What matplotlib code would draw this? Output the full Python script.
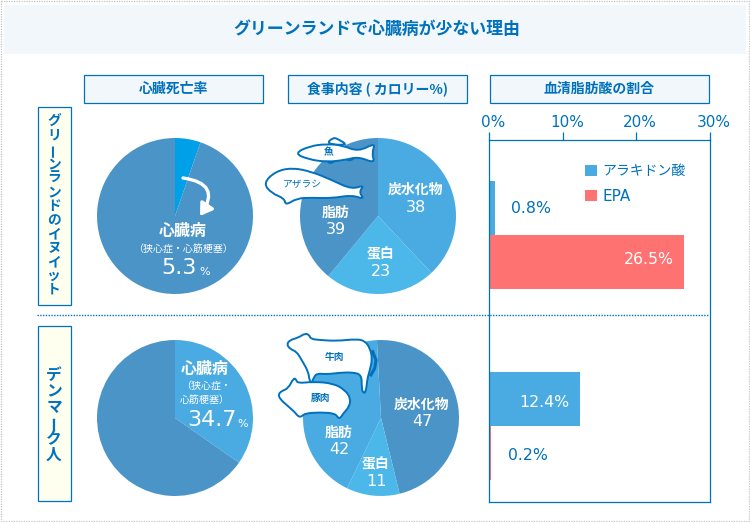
import matplotlib
matplotlib.use('Agg')
import matplotlib.pyplot as plt
from matplotlib.patches import Rectangle, PathPatch, FancyArrowPatch
from matplotlib.path import Path
from matplotlib.transforms import ScaledTranslation
import numpy as np

plt.rcParams['font.family'] = ['Noto Sans CJK JP', 'DejaVu Sans']

W, H = 750, 522
BLUE = '#0071bc'
DARK = '#4b94c8'
MID = '#4aabe3'
LIGHT = '#4cb8e9'
VIVID = '#00a0e9'
RED = '#ff7272'
BAND = '#f2f7fc'

title = 'グリーンランドで心臓病が少ない理由'
headers = ['心臓死亡率', '食事内容 ( カロリー%)', '血清脂肪酸の割合']
groups = ['グリーンランドのイヌイット', 'デンマーク人']

heart_values = [5.3, 94.7]
heart_values_dk = [34.7, 65.3]
food_labels = ['炭水化物', '蛋白', '脂肪']
food_values = [38, 23, 39]
food_values_dk = [47, 11, 42]

series_names = ['アラキドン酸', 'EPA']
arachidonic = [0.8, 12.4]
epa = [26.5, 0.2]
ticks = [0, 10, 20, 30]


def axes_px(fig, x0, y0, x1, y1, **kw):
    return fig.add_axes([x0 / W, 1 - y1 / H, (x1 - x0) / W, (y1 - y0) / H], **kw)


def draw_pie(fig, cx, cy, values, colors, start=90):
    r = 78
    ax = axes_px(fig, cx - r, cy - r, cx + r, cy + r)
    ax.pie(values, colors=colors, startangle=start, counterclock=False, radius=1)
    ax.set_xlim(-1, 1)
    ax.set_ylim(-1, 1)
    return ax


def blob(ax, pts, zorder=6):
    # closed smooth outline through midpoints
    pts = np.array(pts, dtype=float)
    mids = (pts + np.roll(pts, -1, axis=0)) / 2
    verts = [mids[-1]]
    codes = [Path.MOVETO]
    for p, m in zip(pts, mids):
        verts += [p, m]
        codes += [Path.CURVE3, Path.CURVE3]
    ax.add_patch(PathPatch(Path(verts, codes), fc='white', ec=BLUE, lw=1.4, zorder=zorder))


def shape(ax, pts, ox, oy, zorder=6):
    blob(ax, [(ox + x / 3, oy + y / 3) for x, y in pts], zorder)


fig = plt.figure(figsize=(7.5, 5.22), dpi=100)

# pies
draw_pie(fig, 175, 216, heart_values, [VIVID, DARK])
draw_pie(fig, 175, 418, heart_values_dk, [MID, DARK])
draw_pie(fig, 378, 216, food_values, [MID, LIGHT, DARK])
draw_pie(fig, 381, 418, food_values_dk, [DARK, LIGHT, MID], start=93)

# bars
bx = axes_px(fig, 489.5, 139.5, 709.5, 501.5)
rows = np.array([1.27, 4.81])
bx.barh(rows, arachidonic, height=1, color=MID, label=series_names[0])
bx.barh(rows + 1, epa, height=1, color=RED, label=series_names[1])
bx.set_xlim(0, 30)
bx.set_ylim(6.7, 0)
bx.set_yticks([])
bx.xaxis.tick_top()
bx.set_xticks(ticks)
bx.set_xticklabels([f'{t}%' for t in ticks], family='DejaVu Sans', fontsize=11, color=BLUE)
bx.tick_params(axis='x', length=6, width=0.9, color=BLUE, pad=1)
for lab in bx.get_xticklabels():
    lab.set_transform(lab.get_transform() + ScaledTranslation(0.04, 0, fig.dpi_scale_trans))
for s in bx.spines.values():
    s.set_color(BLUE)
    s.set_linewidth(0.9)
bx.patch.set_alpha(0)
leg = bx.legend(loc='upper left', bbox_to_anchor=(0.434, 0.932), frameon=False, fontsize=10,
                handlelength=0.85, handleheight=0.85, handletextpad=0.4, labelspacing=0.75,
                labelcolor=BLUE, borderpad=0, borderaxespad=0)
leg.get_texts()[1].set_family('DejaVu Sans')
leg.get_texts()[1].set_fontsize(11)

num_font = dict(family='DejaVu Sans', fontsize=11.3, va='center')
bx.text(2.93, rows[0], f'{arachidonic[0]}%', color=BLUE, ha='left', **num_font)
bx.text(25.2, rows[0] + 0.95, f'{epa[0]}%', color='white', ha='right', **num_font)
bx.text(10.9, rows[1] + 0.05, f'{arachidonic[1]}%', color='white', ha='right', **num_font)
bx.text(2.5, rows[1] + 1.04, f'{epa[1]}%', color=BLUE, ha='left', **num_font)

# page furniture and labels in pixel coordinates
ov = fig.add_axes([0, 0, 1, 1], zorder=5)
ov.set_xlim(0, W)
ov.set_ylim(H, 0)
ov.axis('off')
ov.patch.set_alpha(0)

ov.add_patch(Rectangle((1, 1), 748, 520, fc='none', ec='#c4c4c4', lw=0.9, ls=(0, (1, 1))))
ov.add_patch(Rectangle((4, 5), 742, 49, fc=BAND, ec='none'))
ov.text(377, 29, title, color=BLUE, fontsize=12.2, fontweight='bold', ha='center', va='center')

for (x0, x1), h in zip([(84, 263), (288, 466.5), (489.5, 708.5)], headers):
    ov.add_patch(Rectangle((x0, 74.5), x1 - x0, 28.5, fc=BAND, ec=BLUE, lw=0.9))
    ov.text((x0 + x1) / 2, 89, h, color=BLUE, fontsize=10, fontweight='bold', ha='center', va='center')

ov.plot([37, 709], [315, 315], color=BLUE, lw=1, ls=(0, (1, 1)))

# vertical group labels, one character at a time
boxes = [(106.5, 305, 122, 14, 9.9), (325.5, 501, 375, 16, 11.3)]
for (y0, y1, first, step, size), name in zip(boxes, groups):
    ov.add_patch(Rectangle((37.5, y0), 33, y1 - y0, fc='#fffff0', ec=BLUE, lw=0.9))
    for i, ch in enumerate(name):
        rot = 90 if ch == 'ー' else 0
        ov.text(54, first + i * step, ch, color=BLUE, fontsize=size, fontweight='bold', rotation=rot,
                ha='center', va='center')

# heart pie labels
ov.add_patch(FancyArrowPatch((183, 178), (200, 216), connectionstyle='arc3,rad=-0.8',
                             arrowstyle='-|>,head_length=7,head_width=4.5', color='white', lw=2.4,
                             shrinkA=0, shrinkB=0, zorder=4))
ov.text(183, 231, '心臓病', color='white', fontsize=11.5, fontweight='bold', ha='center', va='center')
ov.text(183, 249, '（狭心症・心筋梗塞）', color='white', fontsize=7.2, ha='center', va='center')
ov.text(179, 268, f'{heart_values[0]}', color='white', fontsize=16, family='DejaVu Sans', ha='center', va='center')
ov.text(205, 272, '%', color='white', fontsize=8, family='DejaVu Sans', ha='center', va='center')

ov.text(205, 369, '心臓病', color='white', fontsize=11.5, fontweight='bold', ha='center', va='center')
ov.text(206, 386, '（狭心症・', color='white', fontsize=7.2, ha='center', va='center')
ov.text(205, 400, '心筋梗塞）', color='white', fontsize=7.2, ha='center', va='center')
ov.text(212, 420, f'{heart_values_dk[0]}', color='white', fontsize=16, family='DejaVu Sans', ha='center', va='center')
ov.text(243, 424, '%', color='white', fontsize=8, family='DejaVu Sans', ha='center', va='center')

# food pie labels
food_pos = [(416, 191), (381, 255), (336, 214)]
food_pos_dk = [(422, 406), (376, 465), (339, 434)]
for pos, vals in [(food_pos, food_values), (food_pos_dk, food_values_dk)]:
    for (x, y), lab, v in zip(pos, food_labels, vals):
        ov.text(x, y - 1, lab, color='white', fontsize=10, fontweight='bold', ha='center', va='center')
        ov.text(x, y + 16, str(v), color='white', fontsize=11.5, family='DejaVu Sans', ha='center', va='center')

# animals
shape(ov, [(213, 42), (235, 22), (250, 28), (280, 46)], 255, 130, zorder=5)
shape(ov, [(215, 90), (225, 102), (240, 92), (270, 84), (285, 94), (305, 78)], 255, 130, zorder=5)
shape(ov, [(118, 70), (165, 48), (215, 42), (262, 46), (310, 65), (362, 38), (350, 70),
           (360, 100), (310, 80), (270, 90), (215, 96), (160, 88)], 255, 130)
shape(ov, [(25, 160), (60, 125), (110, 113), (170, 125), (230, 150), (290, 178), (328, 165),
           (312, 186), (328, 208), (290, 195), (230, 205), (170, 203), (125, 205), (92, 226),
           (88, 205), (50, 190)], 255, 130)
ov.plot([270 + 308 / 3, 270 + 318 / 3, 270 + 314 / 3, 270 + 303 / 3],
        [325 + 80 / 3, 325 + 105 / 3, 325 + 130 / 3, 325 + 150 / 3], color=BLUE, lw=2.2, zorder=5)
shape(ov, [(50, 58), (60, 45), (85, 38), (105, 25), (118, 30), (122, 42), (150, 45), (200, 48),
           (260, 42), (285, 48), (300, 70), (307, 100), (300, 135), (292, 160), (288, 200),
           (280, 205), (275, 190), (275, 150), (250, 142), (210, 143), (170, 148), (140, 145),
           (130, 160), (125, 175), (118, 165), (115, 140), (95, 105), (80, 80), (60, 72)], 270, 325)
shape(ov, [(25, 208), (35, 198), (55, 190), (70, 160), (78, 162), (82, 175), (130, 170), (190, 175),
           (225, 195), (242, 220), (238, 245), (220, 265), (212, 278), (205, 280), (195, 265),
           (150, 262), (105, 265), (95, 275), (85, 275), (75, 262), (50, 240), (30, 222)], 270, 325)

ov.text(329, 152, '魚', color=BLUE, fontsize=7, fontweight='bold', ha='center', va='center', zorder=7)
ov.text(302, 184, 'アザラシ', color=BLUE, fontsize=7, ha='center', va='center', zorder=7)
ov.text(335, 357, '牛肉', color=BLUE, fontsize=7, fontweight='bold', ha='center', va='center', zorder=7)
ov.text(321, 398, '豚肉', color=BLUE, fontsize=7, fontweight='bold', ha='center', va='center', zorder=7)

fig.savefig('out.png', dpi=100)
